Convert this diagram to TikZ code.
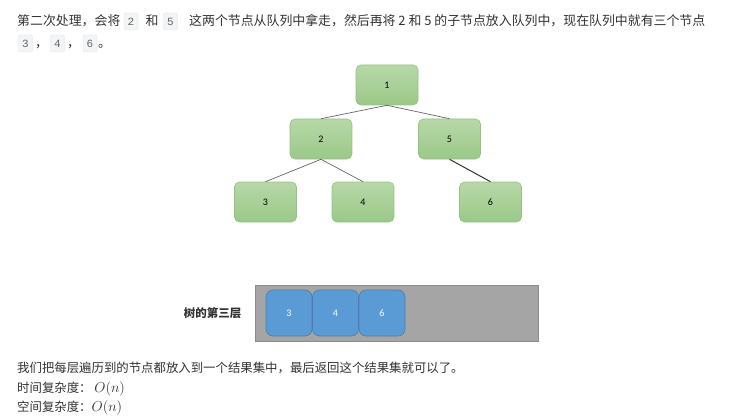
\documentclass[tikz,border=0pt]{standalone}
\usepackage{fontspec}
\setmainfont{Noto Sans CJK SC}
\newfontfamily\nodefont{Carlito}
\newfontfamily\chipfont{Liberation Mono}
\definecolor{txt}{HTML}{333333}
\definecolor{greentop}{HTML}{B7D8A8}
\definecolor{greenbot}{HTML}{9BC888}
\definecolor{greenline}{HTML}{95C283}
\definecolor{qgrey}{HTML}{A5A5A5}
\definecolor{qline}{HTML}{8C8C8C}
\definecolor{qblue}{HTML}{5B9BD5}
\definecolor{qblueline}{HTML}{4A7EB0}
\definecolor{chipfill}{HTML}{F3F4F5}
\definecolor{chipline}{HTML}{E2E4E6}
\definecolor{edgecol}{HTML}{666666}
\begin{document}
\begin{tikzpicture}[x=1pt,y=-1pt,
  line1/.style={anchor=base west, inner sep=0pt, text=txt, font=\fontsize{12.9}{15}\selectfont},
  line2/.style={anchor=base west, inner sep=0pt, text=txt, font=\fontsize{12.4}{15}\selectfont},
  chip/.style={draw=chipline, fill=chipfill, rounded corners=2pt, minimum width=14pt, minimum height=17pt, inner sep=0pt, text=black!60, font=\chipfont\fontsize{11}{12}\selectfont},
  treenode/.style={draw=greenline, line width=0.6pt, rounded corners=5pt, minimum width=62pt, minimum height=40pt, inner sep=0pt, top color=greentop, bottom color=greenbot, font=\nodefont\fontsize{10}{12}\selectfont},
  treeedge/.style={draw=edgecol, line width=0.7pt},
  queuebox/.style={draw=qline, fill=qgrey, line width=0.6pt, minimum width=283pt, minimum height=56pt, inner sep=0pt},
  qitem/.style={draw=qblueline, fill=qblue, line width=0.6pt, rounded corners=7pt, minimum width=46pt, minimum height=46pt, inner sep=0pt, text=white, font=\nodefont\fontsize{10}{12}\selectfont},
  qlabel/.style={inner sep=0pt, text=txt, font=\fontsize{11.5}{13}\selectfont\bfseries},
  bigmath/.style={font=\fontsize{14}{16}\selectfont}
]
\useasboundingbox[fill=white] (0,0) rectangle (744,417);

% top text
\node[line1] (t1) at (17,26) {第二次处理，会将};
\node[chip] (c2) at (131,21.5) {2};
\node[line1] (t2) at (145.5,26) {和};
\node[chip] (c5) at (170.5,21.5) {5};
\node[line1] (t3) at (189,26) {这两个节点从队列中拿走，然后再将 2 和 5 的子节点放入队列中，现在队列中就有三个节点};
\node[chip] (c3) at (25.5,43.5) {3};
\node[line1] (k1) at (35,48) {，};
\node[chip] (c4) at (57.5,43.5) {4};
\node[line1] (k2) at (67,48) {，};
\node[chip] (c6) at (90,43.5) {6};
\node[line1] (k3) at (98,48) {。};

% tree
\node[treenode] (n1) at (387,85) {1};
\node[treenode] (n2) at (321,139) {2};
\node[treenode] (n5) at (449.5,139) {5};
\node[treenode] (n3) at (265.5,202) {3};
\node[treenode] (n4) at (363,202) {4};
\node[treenode] (n6) at (490.5,202) {6};
\draw[treeedge] (n1.south) -- (n2.north);
\draw[treeedge] (n1.south) -- (n5.north);
\draw[treeedge] (n2.south) -- (n3.north);
\draw[treeedge] (n2.south) -- (n4.north);
\draw[treeedge, draw=black!80, line width=1pt] (n5.south) -- (n6.north);

% queue
\node[qlabel] (ql) at (212.5,313) {树的第三层};
\node[queuebox] (q) at (397,313) {};
\node[qitem] (q3) at (289,313) {3};
\node[qitem] (q4) at (335.5,313) {4};
\node[qitem] (q6) at (382,313) {6};

% bottom text
\node[line2] (b1) at (17,372.5) {我们把每层遍历到的节点都放入到一个结果集中，最后返回这个结果集就可以了。};
\node[line2] (b2) at (17,392) {时间复杂度：\ {\fontsize{14.5}{16}\selectfont$O(n)$}};
\node[line2] (b3) at (17,411.5) {空间复杂度：{\fontsize{14.5}{16}\selectfont$O(n)$}};
\end{tikzpicture}
\end{document}
